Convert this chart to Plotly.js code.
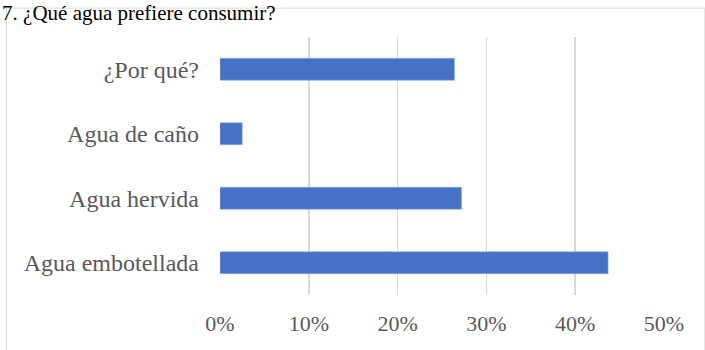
<!DOCTYPE html>
<html>
<head>
<meta charset="utf-8">
<script src="https://cdn.plot.ly/plotly-3.0.1.min.js"></script>
<style>html,body{margin:0;padding:0;background:#fff;}#chart{width:705px;height:350px;}</style>
</head>
<body>
<div id="chart"></div>
<script>
var categories = ["Agua embotellada", "Agua hervida", "Agua de caño", "¿Por qué?"];
var values = [0.437, 0.272, 0.025, 0.264];
var titleText = "7. ¿Qué agua prefiere consumir?";

var serif = "Liberation Serif, Times New Roman, serif";
var data = [{
  type: "bar",
  orientation: "h",
  y: categories,
  x: values,
  marker: {color: "#4472C4", line: {color: "#8eaadb", width: 0.6}},
  hoverinfo: "none"
}];
var layout = {
  width: 705, height: 350,
  margin: {l: 220, r: 41, t: 37, b: 55, pad: 0},
  paper_bgcolor: "#fff", plot_bgcolor: "#fff",
  bargap: 0.66,
  showlegend: false,
  title: {text: titleText, x: 0.003, xanchor: "left", xref: "container", y: 0.985, yanchor: "top",
          font: {family: serif, size: 21, color: "#000"}},
  xaxis: {range: [0, 0.5], dtick: 0.1, tickformat: ".0%", showgrid: true, gridcolor: "#d9d9d9", gridwidth: 1.5,
          zeroline: false, showline: false, ticks: "", ticklabelstandoff: 13,
          tickfont: {family: serif, size: 22, color: "#595959"}, fixedrange: true},
  yaxis: {showgrid: false, zeroline: false, showline: false, ticks: "", ticklabelstandoff: 20,
          tickfont: {family: serif, size: 24, color: "#595959"}, fixedrange: true},
  shapes: [{type: "rect", xref: "paper", yref: "paper", x0: -0.481, x1: 1.092, y0: -0.25, y1: 1.112,
            line: {color: "#d9d9d9", width: 1}, fillcolor: "rgba(0,0,0,0)", layer: "below"}]
};
Plotly.newPlot("chart", data, layout, {displayModeBar: false, staticPlot: true});
</script>
</body>
</html>
